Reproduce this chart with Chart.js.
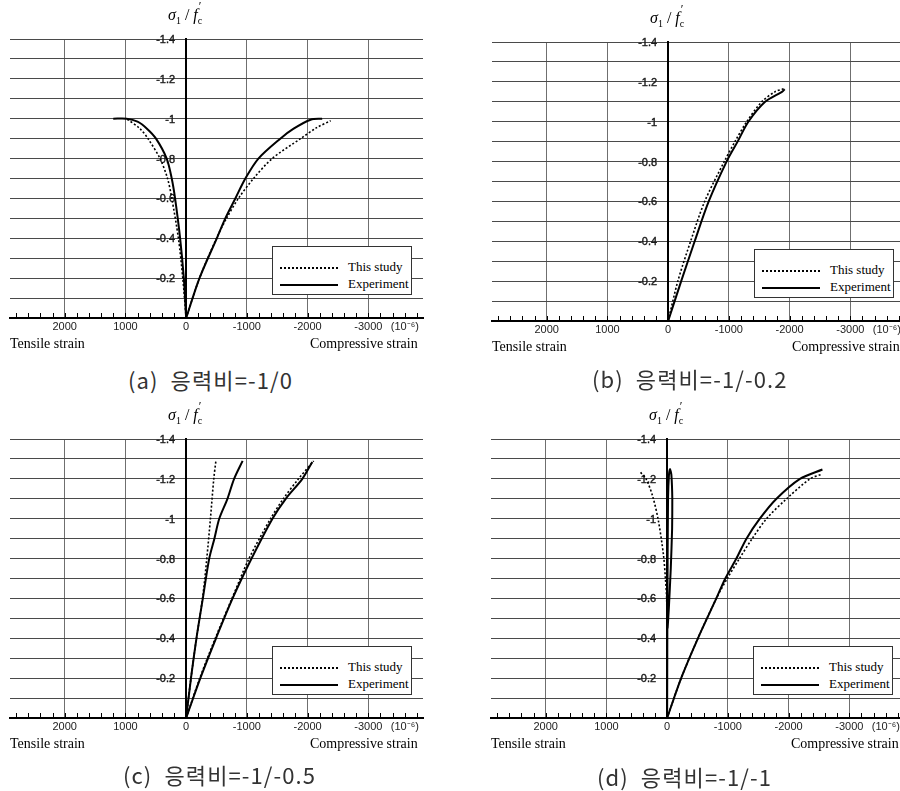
<!DOCTYPE html>
<html>
<head>
<meta charset="utf-8">
<script src="https://cdn.jsdelivr.net/npm/chart.js"></script>
<style>
  body { margin: 0; background: #fff; width: 900px; height: 791px; overflow: hidden; position: relative; }
  .panel { position: absolute; width: 450px; height: 395px; }
  .panel canvas { position: absolute; left: 0; top: 0; }
  .ytitle { position: absolute; left: 168px; top: 6px; font: 16px "Liberation Serif", serif; white-space: nowrap; }
  .ytitle sub { font-size: 10px; }
  .legend { position: absolute; left: 272px; top: 246px; width: 138px; height: 47px; border: 1px solid #333; background: #fff;
            font: 13px "Liberation Serif", serif; }
  .legend .row { position: absolute; left: 7px; height: 16px; width: 130px; }
  .legend .smp { position: absolute; left: 0; top: 8px; width: 58px; border-top: 2px solid #000; }
  .legend .smp.dot { border-top: 2px dotted #000; }
  .legend .txt { position: absolute; left: 68px; top: 0; }
  .tens, .comp { position: absolute; top: 336px; font: 14px "Liberation Serif", serif; white-space: nowrap; }
  .tens { left: 10px; }
  .comp { left: 310px; }
  .cap { position: absolute; font: 22px/22px "Noto Sans CJK KR", sans-serif; letter-spacing: 1.1px; white-space: pre; color: #333; }
</style>
</head>
<body>

<div class="panel" style="left:0px;top:0px">
  <canvas id="ca" width="440" height="345"></canvas>
</div>
<div class="panel" style="left:482px;top:3px">
  <canvas id="cb" width="440" height="345"></canvas>
</div>
<div class="panel" style="left:0px;top:400px">
  <canvas id="cc" width="440" height="345"></canvas>
</div>
<div class="panel" style="left:481px;top:400px">
  <canvas id="cd" width="440" height="345"></canvas>
</div>

<script>
// strain (10^-6, tensile positive) vs sigma1/fc' (compression negative)
const xTicks = [2000, 1000, 0, -1000, -2000, -3000];
const yTicks = [-1.4, -1.2, -1, -0.8, -0.6, -0.4, -0.2];

// (a) 1/0
const aStudyT = [[0,0],[55,-0.2],[127,-0.4],[236,-0.6],[306,-0.7],[430,-0.8],[628,-0.9],[760,-0.95],[980,-1.0]];
const aExpT   = [[0,0],[38,-0.2],[99,-0.4],[182,-0.6],[237,-0.7],[320,-0.8],[496,-0.9],[645,-0.95],[800,-0.985],[980,-1.0],[1200,-1.0]];
const aStudyC = [[0,0],[-220,-0.2],[-500,-0.4],[-665,-0.5],[-860,-0.6],[-1110,-0.7],[-1416,-0.8],[-1884,-0.9],[-2150,-0.955],[-2380,-0.99]];
const aExpC   = [[0,0],[-220,-0.2],[-505,-0.4],[-645,-0.5],[-810,-0.6],[-975,-0.7],[-1190,-0.8],[-1550,-0.9],[-1770,-0.95],[-2050,-0.995],[-2240,-1.0]];

// (b) 1/0.2
const bStudyC = [[0,0],[-160,-0.2],[-370,-0.4],[-602,-0.6],[-924,-0.8],[-1100,-0.9],[-1294,-1.0],[-1542,-1.1],[-1758,-1.15],[-1900,-1.165]];
const bExpC   = [[0,0],[-215,-0.2],[-437,-0.4],[-668,-0.6],[-962,-0.8],[-1144,-0.9],[-1321,-1.0],[-1597,-1.1],[-1874,-1.15],[-1920,-1.163]];

// (c) 1/0.5
const cStudyT = [[0,0],[-80,-0.2],[-170,-0.4],[-270,-0.6],[-340,-0.8],[-400,-1.0],[-455,-1.2],[-490,-1.29]];
const cExpT   = [[0,0],[-80,-0.2],[-170,-0.4],[-275,-0.6],[-380,-0.8],[-465,-0.9],[-545,-1.0],[-680,-1.1],[-790,-1.2],[-930,-1.29]];
const cStudyC = [[0,0],[-225,-0.2],[-480,-0.4],[-755,-0.6],[-1035,-0.8],[-1390,-1.0],[-1600,-1.1],[-1850,-1.2],[-2100,-1.29]];
const cExpC   = [[0,0],[-234,-0.2],[-492,-0.4],[-765,-0.6],[-1077,-0.8],[-1421,-1.0],[-1640,-1.1],[-1913,-1.2],[-2077,-1.285]];

// (d) 1/1
const dStudyT = [[0,0],[0,-0.4],[8,-0.6],[28,-0.7],[61,-0.82],[144,-0.99],[236,-1.11],[347,-1.2],[446,-1.235]];
const dExpT   = [[0,0],[-3,-0.4],[-8,-0.8],[-15,-1.1],[-30,-1.22],[-48,-1.25],[-70,-1.22],[-85,-1.1],[-82,-0.95],[-60,-0.75],[-28,-0.55],[-8,-0.45]];
const dStudyC = [[0,0],[-231,-0.2],[-507,-0.4],[-810,-0.6],[-990,-0.7],[-1190,-0.8],[-1400,-0.9],[-1636,-1.0],[-1967,-1.1],[-2352,-1.2],[-2545,-1.223]];
const dExpC   = [[0,0],[-231,-0.2],[-507,-0.4],[-810,-0.6],[-958,-0.7],[-1140,-0.8],[-1306,-0.9],[-1526,-1.0],[-1800,-1.1],[-2187,-1.2],[-2557,-1.247]];

const captions = ['(a)  응력비=-1/0', '(b)  응력비=-1/-0.2', '(c)  응력비=-1/-0.5', '(d)  응력비=-1/-1'];
const capPos = [[128, 368], [110, 364], [123, 363], [116, 365]];

const pts = arr => arr.map(p => ({ x: p[0], y: p[1] }));

function study(arr) {
    return { data: pts(arr), showLine: true, borderColor: '#000', borderWidth: 1.6, borderDash: [2, 2], pointRadius: 0, tension: 0.3 };
}
function exp(arr, tension = 0.3) {
    return { data: pts(arr), showLine: true, borderColor: '#000', borderWidth: 2, pointRadius: 0, tension };
}

// strain axis ticks every 200 (labels only on the xTicks values)
const xMinor = [];
for (let v = -3800; v <= 2800; v += 200) xMinor.push(v);

// small tick marks on the strain axis, pointing up
const minorTicks = {
    id: 'minorTicks',
    afterDatasetsDraw(chart) {
        const xs = chart.scales.x;
        const ctx = chart.ctx;
        const bottom = chart.chartArea.bottom;
        ctx.save();
        ctx.strokeStyle = '#000';
        ctx.lineWidth = 1;
        xs.ticks.forEach(t => {
            const px = Math.round(xs.getPixelForValue(t.value)) + 0.5;
            ctx.beginPath();
            ctx.moveTo(px, bottom);
            ctx.lineTo(px, bottom - 5);
            ctx.stroke();
        });
        ctx.restore();
    }
};

function makeChart(id, datasets) {
    return new Chart(document.getElementById(id), {
        type: 'scatter',
        data: { datasets },
        plugins: [minorTicks],
        options: {
            responsive: false,
            animation: false,
            layout: { padding: { left: 10, right: 17, top: 39, bottom: 7 } },
            plugins: { legend: { display: false }, tooltip: { enabled: false } },
            scales: {
                x: {
                    type: 'linear',
                    position: 'bottom',
                    min: -3900,
                    max: 2900,
                    reverse: true,
                    afterBuildTicks: s => { s.ticks = xMinor.map(v => ({ value: v })); },
                    afterFit: s => { s.height = 20; },
                    border: { display: true, color: '#000', width: 2 },
                    grid: {
                        drawTicks: false,
                        color: c => (c.tick && xTicks.includes(c.tick.value) && c.tick.value !== 0) ? '#6f6f6f' : 'rgba(0,0,0,0)'
                    },
                    ticks: {
                        autoSkip: false,
                        maxRotation: 0,
                        padding: 2,
                        color: '#222',
                        font: { family: 'Liberation Sans', size: 11 },
                        callback: v => {
                            if (xTicks.includes(v)) return String(v);
                            if (v === -3600) return '(10\u207B\u2076)';
                            return '';
                        }
                    }
                },
                y: {
                    type: 'linear',
                    position: { x: 0 },
                    min: -1.4,
                    max: 0,
                    reverse: true,
                    border: { display: true, color: '#000', width: 2 },
                    grid: { drawTicks: false, color: '#4a4a4a', lineWidth: 1 },
                    ticks: {
                        stepSize: 0.1,
                        labelOffset: 1,
                        color: '#1a1a1a',
                        textStrokeColor: '#1a1a1a',
                        textStrokeWidth: 0.4,
                        font: { family: 'Liberation Sans', size: 11 },
                        callback: v => {
                            const r = Math.round(v * 10) / 10;
                            // em space keeps the label clear of the axis line
                            return yTicks.includes(r) ? String(r) + '\u2003' : '';
                        }
                    }
                }
            }
        }
    });
}

makeChart('ca', [study(aStudyT), exp(aExpT), study(aStudyC), exp(aExpC)]);
makeChart('cb', [study(bStudyC), exp(bExpC)]);
makeChart('cc', [study(cStudyT), exp(cExpT), study(cStudyC), exp(cExpC)]);
makeChart('cd', [study(dStudyT), exp(dExpT, 0.15), study(dStudyC), exp(dExpC)]);

// text around each panel
document.querySelectorAll('.panel').forEach((p, i) => {
    p.insertAdjacentHTML('beforeend',
        '<div class="ytitle"><i>\u03C3</i><sub>1</sub> / <i>f</i><span style="position:relative"><span style="position:absolute;left:1px;top:-7px;font-size:12px">\u2032</span><sub>c</sub></span></div>' +
        '<div class="legend">' +
        '<div class="row" style="top:12px"><div class="smp dot"></div><div class="txt">This study</div></div>' +
        '<div class="row" style="top:29px"><div class="smp"></div><div class="txt">Experiment</div></div>' +
        '</div>' +
        '<div class="tens">Tensile strain</div>' +
        '<div class="comp">Compressive strain</div>' +
        '<div class="cap" style="left:' + capPos[i][0] + 'px;top:' + capPos[i][1] + 'px">' + captions[i] + '</div>');
});
</script>
</body>
</html>
